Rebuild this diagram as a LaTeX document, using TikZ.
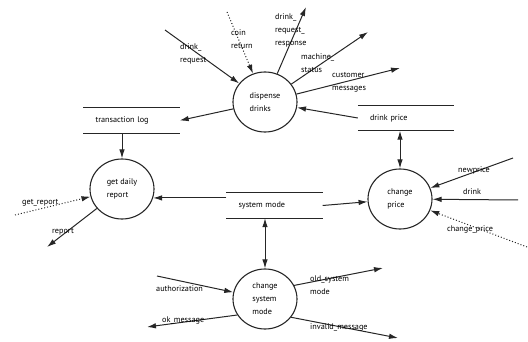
\documentclass[tikz,border=0pt]{standalone}
\usepackage{fontspec}
\setmainfont{PT Sans}
\usetikzlibrary{arrows.meta,shapes.geometric}
\begin{document}
\begin{tikzpicture}[x=1pt,y=-1pt,
  font=\fontsize{8.2}{13}\selectfont,
  ink/.style={draw=black!85},
  proc/.style={ellipse, ink, line width=1.1pt, minimum width=64pt, minimum height=60pt, inner sep=0pt, align=left},
  store/.style={minimum height=25pt, text width=72pt, inner xsep=12pt, inner ysep=0pt, align=left},
  storeline/.style={ink, line width=1pt},
  lbl/.style={anchor=west, align=left, inner sep=0pt},
  flow/.style={ink, line width=1pt, -{Latex[length=9pt,width=5.5pt]}},
  bflow/.style={ink, line width=1pt, {Latex[length=9pt,width=5.5pt]}-{Latex[length=9pt,width=5.5pt]}},
  dflow/.style={flow, dotted}
]
\useasboundingbox (0,0) rectangle (528,342);

% processes
\node[proc] (dd)  at (265,102) {dispense\\drinks};
\node[proc] (gdr) at (122,189) {get daily\\report};
\node[proc] (cp)  at (400,199) {change\\price};
\node[proc] (csm) at (265,299) {change\\system\\mode};

% data stores
\node[store] (tl) at (131.5,120.5) {transaction log};
\node[store] (dp) at (406,118) {drink price};
\node[store] (sm) at (274.5,205.5) {system mode};
\foreach \s in {tl,dp,sm}{
  \draw[storeline] (\s.north west) -- (\s.north east) (\s.south west) -- (\s.south east);
}

% free ends
\coordinate (drq) at (165,30);
\coordinate (cr)  at (227,12);
\coordinate (drr) at (306,7);
\coordinate (ms)  at (368,32);
\coordinate (cm)  at (400,68);
\coordinate (gr)  at (15,215);
\coordinate (rp)  at (47,247);
\coordinate (np)  at (513,158);
\coordinate (dk)  at (518,200);
\coordinate (chp) at (527,247);
\coordinate (au)  at (157,276);
\coordinate (ok)  at (147,327);
\coordinate (os)  at (383,268);
\coordinate (im)  at (398,338);

% flows of dispense drinks
\draw[flow] (drq) -- (dd);
\draw[dflow] (cr) -- (dd);
\draw[flow] (dd) -- (drr);
\draw[flow] (dd) -- (ms);
\draw[flow] (dd) -- (cm);
\draw[flow] (dd) -- (tl.east);
\draw[flow] (dp.west) -- (dd);

% get daily report
\draw[flow] (gdr.north |- tl.south) -- (gdr.north);
\draw[dflow] (gr) -- (gdr);
\draw[flow] (gdr) -- (rp);
\draw[flow] (sm.west |- gdr.-16) -- (gdr.-16);

% change price
\draw[bflow] (cp.north |- dp.south) -- (cp.north);
\draw[flow] (sm.east) -- (cp);
\draw[flow] (np) -- (cp);
\draw[flow] (dk) -- (cp);
\draw[dflow] (chp) -- (cp);

% change system mode
\draw[bflow] (csm.north |- sm.south) -- (csm.north);
\draw[flow] (au) -- (csm);
\draw[flow] (csm.-150) -- (ok);
\draw[flow] (csm.25) -- (os);
\draw[flow] (csm.-35) -- (im);

% labels
\node[lbl] (l1)  at (180,53.5) {drink\_\\request};
\node[lbl] (l2)  at (231,39) {coin\\return};
\node[lbl] (l3)  at (275,30) {drink\_\\request\_\\response};
\node[lbl] (l4)  at (301,63.5) {machine\_\\status};
\node[lbl] (l5)  at (332,82.5) {customer\\messages};
\node[lbl] (l6)  at (22,203) {get\_report};
\node[lbl] (l7)  at (52,232) {report};
\node[lbl] (l8)  at (458,170) {newprice};
\node[lbl] (l9)  at (463,192) {drink};
\node[lbl] (l10) at (447,229) {change\_price};
\node[lbl] (l11) at (156,289) {authorization};
\node[lbl] (l12) at (162,320) {ok\_message};
\node[lbl] (l13) at (310,285.5) {old\_system\\mode};
\node[lbl] (l14) at (310,327) {invalid\_message};
\end{tikzpicture}
\end{document}
